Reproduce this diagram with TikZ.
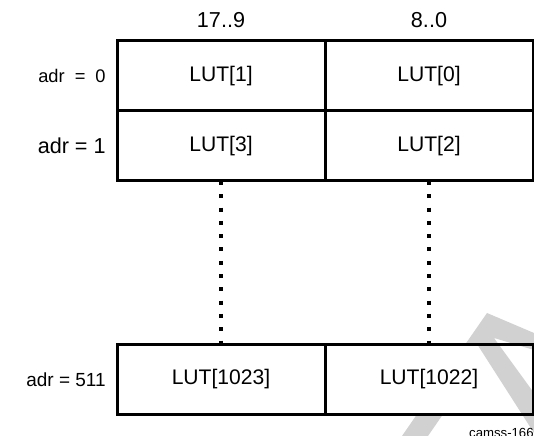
\documentclass[tikz,border=0pt]{standalone}
\usepackage{fontspec}
\setmainfont{Liberation Sans}
\usetikzlibrary{positioning}

\begin{document}
\begin{tikzpicture}[
	lutcell/.style={draw, line width=0.06cm, minimum width=4.16cm, minimum height=1.4cm, inner sep=0pt, outer sep=0pt, font=\fontsize{12}{14}\selectfont},
	bitlbl/.style={inner sep=0pt, font=\fontsize{12.3}{14}\selectfont},
	adrlbl/.style={inner sep=0pt, font=\fontsize{10.4}{12}\selectfont},
	dotline/.style={line width=0.08cm, dash pattern=on 0.08cm off 0.186cm}
]
	\useasboundingbox (0,0) rectangle (10.68,8.72);
	\fill[black!18] (9.31,1.84) -- (9.74,2.46) -- (10.68,2.06) -- (10.68,1.72) -- (9.88,1.96) -- (10.68,0.86) -- (10.68,0.06) -- (9.54,1.84) -- cycle;
	\fill[black!18] (8.04,0) -- (8.56,0) -- (8.85,0.42) -- (8.33,0.42) -- cycle;
	\node[lutcell] (c11) at (4.42,7.2) {LUT[1]};
	\node[lutcell, right=0cm of c11] (c12) {LUT[0]};
	\node[lutcell, below=0cm of c11] (c21) {LUT[3]};
	\node[lutcell, right=0cm of c21] (c22) {LUT[2]};
	\node[lutcell, below=3.27cm of c21] (c31) {LUT[1023]};
	\node[lutcell, right=0cm of c31] (c32) {LUT[1022]};
	\node[bitlbl, above=0.26cm of c11] (hi) {17..9};
	\node[bitlbl, above=0.26cm of c12] (lo) {8..0};
	\node[adrlbl, left=0.22cm of c11] (a0) {adr\hskip0.55em=\hskip0.55em0};
	\node[bitlbl, left=0.22cm of c21] (a1) {adr = 1};
	\node[bitlbl, left=0.22cm of c31, font=\fontsize{10.8}{13}\selectfont] (a511) {adr = 511};
	\draw[dotline] (c21.south) -- (c31.north);
	\draw[dotline] (c22.south) -- (c32.north);
	\node[anchor=base east, inner sep=0pt, font=\fontsize{7.5}{9}\selectfont] (tag) at (10.68,-0.03) {camss-166};
\end{tikzpicture}
\end{document}
